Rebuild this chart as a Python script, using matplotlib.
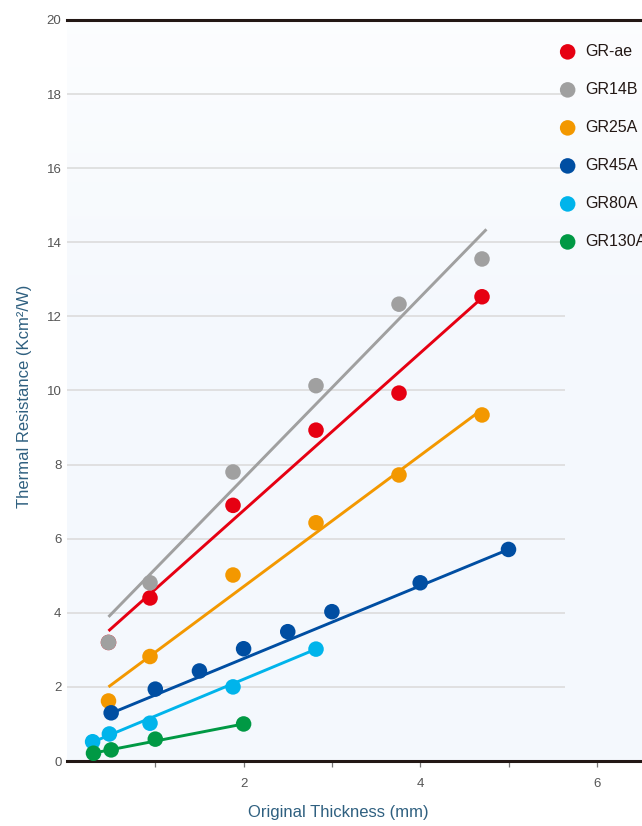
import numpy as np
import matplotlib.pyplot as plt
from matplotlib.colors import LinearSegmentedColormap

plt.rcParams['font.family'] = ['Liberation Sans', 'DejaVu Sans']

names = ['GR-ae', 'GR14B', 'GR25A', 'GR45A', 'GR80A', 'GR130A']
colors = ['#e60012', '#a0a0a0', '#f39800', '#004ea2', '#00b4eb', '#009944']

x_ae = [0.47, 0.94, 1.88, 2.82, 3.76, 4.70]
y_ae = [3.2, 4.4, 6.9, 8.93, 9.93, 12.53]
x_14b = [0.47, 0.94, 1.88, 2.82, 3.76, 4.70]
y_14b = [3.2, 4.81, 7.8, 10.13, 12.33, 13.55]
x_25a = [0.47, 0.94, 1.88, 2.82, 3.76, 4.70]
y_25a = [1.62, 2.82, 5.02, 6.43, 7.72, 9.34]
x_45a = [0.5, 1.0, 1.5, 2.0, 2.5, 3.0, 4.0, 5.0]
y_45a = [1.3, 1.94, 2.43, 3.03, 3.49, 4.03, 4.81, 5.71]
x_80a = [0.29, 0.48, 0.94, 1.88, 2.82]
y_80a = [0.52, 0.73, 1.02, 2.0, 3.02]
x_130a = [0.3, 0.5, 1.0, 2.0]
y_130a = [0.21, 0.30, 0.59, 1.0]

# trend lines, (start, end)
trend_x = [(0.47, 4.70), (0.47, 4.75), (0.47, 4.68), (0.5, 5.0), (0.29, 2.82), (0.29, 2.0)]
trend_y = [(3.51, 12.5), (3.89, 14.35), (2.0, 9.45), (1.29, 5.71), (0.51, 3.02), (0.21, 1.0)]

xs = [x_ae, x_14b, x_25a, x_45a, x_80a, x_130a]
ys = [y_ae, y_14b, y_25a, y_45a, y_80a, y_130a]

W, H = 642, 826
fig = plt.figure(figsize=(W / 100, H / 100), dpi=100)
ax = fig.add_axes([67 / W, (H - 761) / H, (W - 67) / W, 741 / H])
xmax = (W - 67) / 88.3
ax.set_xlim(0, xmax)
ax.set_ylim(0, 20)

# soft background, white at the top fading to pale blue
cmap = LinearSegmentedColormap.from_list('bg', ['#f4f8fd', '#f4f8fd', '#ffffff'])
grad = np.linspace(0, 1, 200).reshape(-1, 1)
ax.imshow(grad, extent=[0, xmax, 0, 20], origin='lower', aspect='auto',
          cmap=cmap, vmin=0, vmax=1.15, zorder=0)

# grid lines stop before the legend
ax.hlines(np.arange(2, 20, 2), 0, 5.64, color='#dcdcdc', lw=1.2, zorder=1)

for i in range(len(names)):
    ax.plot(trend_x[i], trend_y[i], color=colors[i], lw=2.1, zorder=2,
            solid_capstyle='butt')
    ax.scatter(xs[i], ys[i], s=125, color=colors[i], edgecolors='none', zorder=3)

# legend on the right, drawn by hand
for i, n in enumerate(names):
    ly = 19.14 - i * 1.026
    ax.scatter([5.67], [ly], s=125, color=colors[i], edgecolors='none',
               clip_on=False, zorder=4)
    ax.text(5.865, ly, n, fontsize=11.5, color='#231815', va='center',
            ha='left', clip_on=False)

for s in ['left', 'right']:
    ax.spines[s].set_visible(False)
for s in ['top', 'bottom']:
    ax.spines[s].set_color('#231815')
    ax.spines[s].set_linewidth(2.2)

ax.set_xticks([1, 2, 3, 4, 5, 6])
ax.set_xticklabels(['', '2', '', '4', '', '6'])
ax.set_yticks(np.arange(0, 21, 2))
ax.tick_params(axis='x', direction='out', length=4, width=0.9, color='#777777',
               pad=8, labelsize=9.5, labelcolor='#555555')
ax.tick_params(axis='y', length=0, pad=4, labelsize=9.5, labelcolor='#555555')

fig.text(338 / W, 1 - 813 / H, 'Original Thickness (mm)', fontsize=12,
         color='#2f6080', ha='center', va='center')
fig.text(25 / W, 1 - 396 / H, 'Thermal Resistance (Kcm²/W)', fontsize=12,
         color='#2f6080', ha='center', va='center', rotation=90)

plt.savefig('out.png', dpi=100)
